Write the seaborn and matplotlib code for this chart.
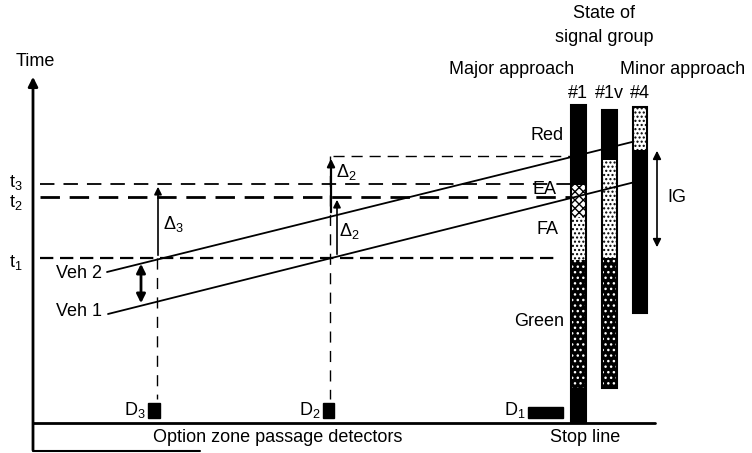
import pandas as pd
import matplotlib.pyplot as plt
import matplotlib.patches as mpatches
import seaborn as sns

sns.set_style("white")
plt.rcParams['font.family'] = ['Liberation Sans', 'DejaVu Sans']
plt.rcParams['text.color'] = 'black'
plt.rcParams['mathtext.fontset'] = 'custom'
plt.rcParams['mathtext.rm'] = 'Liberation Sans'
plt.rcParams['mathtext.it'] = 'Liberation Sans'
plt.rcParams['hatch.linewidth'] = 1.0

# --- diagram values (drawing units: x = distance, y = time row, down = earlier) ---
time_names = ['t$_1$', 't$_2$', 't$_3$']
time_levels = [258, 197, 184]
time_label_rows = [262, 202, 182]

detector_names = ['D$_3$', 'D$_2$', 'D$_1$']
detector_x = [154, 328, 545]
detector_w = [12, 11, 35]

veh_names = ['Veh 1', 'Veh 2']
veh_x = [[108, 635], [107, 632]]
veh_y = [[314, 182], [272, 142]]

group_names = ['#1', '#1v', '#4']
group_x = [578, 609, 640]
group_w = [15, 15, 14]
# (from, to, state) for each signal group
group_states = [
    [(105, 185, 'red'), (185, 217, 'ea'), (217, 260, 'fa'), (260, 388, 'green'), (388, 423, 'red')],
    [(110, 160, 'red'), (160, 258, 'fa'), (258, 388, 'green')],
    [(107, 150, 'fa'), (150, 313, 'red')],
]
phase_names = ['Red', 'EA', 'FA', 'Green']
phase_rows = [136, 190, 230, 322]
phase_right = [564, 557, 558, 564]

# --- figure ---
fig = plt.figure(figsize=(7.52, 4.53), dpi=100)
ax = fig.add_axes([0, 0, 1, 1])

df = pd.DataFrame({
    'x': veh_x[0] + veh_x[1],
    'y': veh_y[0] + veh_y[1],
    'veh': [veh_names[0]] * 2 + [veh_names[1]] * 2,
})
sns.lineplot(data=df, x='x', y='y', units='veh', estimator=None,
             color='black', linewidth=1.3, ax=ax, legend=False)

ax.set_xlim(0, 752)
ax.set_ylim(453, 0)
ax.axis('off')

fs = 13
# time axis
ax.annotate('', xy=(33, 74), xytext=(33, 453),
            arrowprops=dict(arrowstyle='-|>', lw=2, color='black', mutation_scale=14))
ax.text(35, 62, 'Time', ha='center', va='center', fontsize=fs)

# distance baseline
ax.plot([33, 655], [423, 423], color='black', lw=2)
ax.plot([33, 200], [451, 451], color='black', lw=1.5)
ax.text(278, 438, 'Option zone passage detectors', ha='center', va='center', fontsize=fs)
ax.text(585, 438, 'Stop line', ha='center', va='center', fontsize=fs)

# time levels
dash_styles = [(6, 3), (7, 3.5), (8, 5)]
dash_lw = [1.6, 2.0, 1.3]
dash_end = [560, 570, 570]
for name, lvl, row, ds, lw, xe in zip(time_names, time_levels, time_label_rows,
                                      dash_styles, dash_lw, dash_end):
    ax.plot([40, xe], [lvl, lvl], color='black', lw=lw, dashes=ds)
    ax.text(16, row, name, ha='center', va='center', fontsize=fs)

# later time level of vehicle 2 at D2
ax.plot([333, 570], [156, 156], color='black', lw=1, dashes=(8, 5))

# detector projections
ax.plot([157, 157], [258, 399], color='black', lw=1, dashes=(8, 6))
ax.plot([330, 330], [156, 399], color='black', lw=1, dashes=(8, 6))

# detectors
for name, dx, dw in zip(detector_names, detector_x, detector_w):
    h = 15 if dw < 20 else 11
    ax.add_patch(mpatches.Rectangle((dx - dw / 2, 418 - h), dw, h, color='black'))
    ax.text(dx - dw / 2 - 2, 410, name, ha='right', va='center', fontsize=fs)

# vehicle labels
ax.text(102, 273, veh_names[1], ha='right', va='center', fontsize=fs)
ax.text(102, 312, veh_names[0], ha='right', va='center', fontsize=fs)

# arrows
arrow = dict(arrowstyle='-|>', color='black', mutation_scale=11)
ax.annotate('', xy=(141, 261), xytext=(141, 306),
            arrowprops=dict(arrowstyle='<|-|>', lw=2, color='black', mutation_scale=13))
ax.annotate('', xy=(158, 184), xytext=(158, 258), arrowprops=dict(lw=1.2, **arrow))
ax.annotate('', xy=(337, 197), xytext=(337, 257), arrowprops=dict(lw=1.2, **arrow))
ax.annotate('', xy=(331, 156), xytext=(331, 215), arrowprops=dict(lw=1.6, **arrow))
ax.text(163, 224, 'Δ$_3$', ha='left', va='center', fontsize=fs)
ax.text(339, 231, 'Δ$_2$', ha='left', va='center', fontsize=fs)
ax.text(336, 172, 'Δ$_2$', ha='left', va='center', fontsize=fs)

# signal groups
ax.text(604, 14, 'State of', ha='center', va='center', fontsize=fs)
ax.text(604, 38, 'signal group', ha='center', va='center', fontsize=fs)
ax.text(512, 70, 'Major approach', ha='center', va='center', fontsize=fs)
ax.text(683, 70, 'Minor approach', ha='center', va='center', fontsize=fs)

state_style = {
    'red': dict(facecolor='black', edgecolor='black', hatch=None),
    'green': dict(facecolor='black', edgecolor='white', hatch='...'),
    'ea': dict(facecolor='white', edgecolor='black', hatch='xxxx'),
    'fa': dict(facecolor='white', edgecolor='black', hatch='....'),
}
for name, gx, gw, states in zip(group_names, group_x, group_w, group_states):
    for top, bottom, st in states:
        ax.add_patch(mpatches.Rectangle((gx - gw / 2, top), gw, bottom - top,
                                        linewidth=0, **state_style[st]))
    top_all = states[0][0]
    bottom_all = states[-1][1]
    ax.add_patch(mpatches.Rectangle((gx - gw / 2, top_all), gw, bottom_all - top_all,
                                    facecolor='none', edgecolor='black', lw=1.5))
    ax.text(gx, 93, name, ha='center', va='center', fontsize=fs)

for name, row, xr in zip(phase_names, phase_rows, phase_right):
    ax.text(xr, row, name, ha='right', va='center', fontsize=fs)

# intergreen
ax.annotate('', xy=(657, 148), xytext=(657, 250),
            arrowprops=dict(arrowstyle='<|-|>', lw=1.2, color='black', mutation_scale=12))
ax.text(667, 197, 'IG', ha='left', va='center', fontsize=fs)

fig.savefig('out.png', dpi=100)
